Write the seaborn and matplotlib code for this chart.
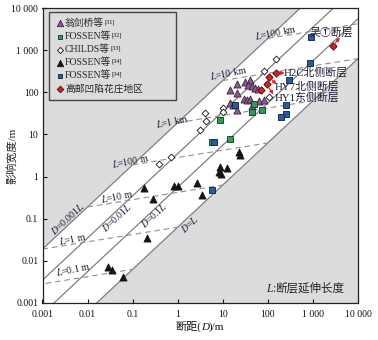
import numpy as np
import pandas as pd
import matplotlib
matplotlib.use('Agg')
import matplotlib.pyplot as plt
import seaborn as sns

sns.set_theme(style='white')
plt.rcParams['font.family'] = ['Liberation Serif', 'Noto Sans CJK SC']
plt.rcParams['mathtext.fontset'] = 'stix'
plt.rcParams['axes.unicode_minus'] = False

# ---------------- data (displacement D / m, influence width W / m) ----------------
weng_D = [20.6, 14.7, 20.6, 31.6, 40.8, 35.6, 44.6, 52.8, 60, 29, 34.5, 40.8, 62.5, 83.6, 14.2, 16.8, 20.6, 44.6]
weng_W = [161, 116, 96, 175, 192, 147, 139, 129, 120, 71, 67, 71, 62, 65, 56, 49, 39, 47]

fossen32_D = [8.8, 5.75, 14.7, 44.6, 74, 50]
fossen32_W = [22.5, 6.6, 7.6, 34, 37, 54]

childs_D = [0.39, 0.71, 4.08, 4.3, 3.05, 10.1, 10.1, 154, 81, 108]
childs_W = [1.97, 2.93, 32, 20.6, 12.6, 43, 34, 632, 315, 77]

fossen34t_D = [0.029, 0.0345, 0.0605, 0.183, 0.29, 0.207, 0.81, 1.04, 2.67, 3.45, 8.8, 8.1, 12.4, 9.1, 22.4, 24.5]
fossen34t_W = [0.0072, 0.006, 0.0041, 0.55, 0.286, 0.034, 0.61, 0.61, 0.72, 0.36, 1.7, 1.29, 1.56, 1.18, 3.85, 3.2]

fossen34s_D = [914, 880, 290, 258, 258, 196, 6.5, 19, 5.75]
fossen34s_W = [2050, 494, 200, 49, 30, 26, 6.6, 51, 0.49]

gaoyou_D = [155, 108, 96, 72, 2800]
gaoyou_W = [286, 231, 155, 111, 1240]

series_labels = ['翁剑桥等', 'FOSSEN等', 'CHILDS等', 'FOSSEN等', 'FOSSEN等', '高邮凹陷花庄地区']
series_refs = ['[31]', '[32]', '[33]', '[34]', '[34]', '']

# reference lines: D = c*L  (W proportional to D along each line)
ratio_labels = ['$D$=0.001$L$', '$D$=0.01$L$', '$D$=0.1$L$', '$D$=$L$']
ratios = [0.001, 0.01, 0.1, 1.0]
width_per_throw = [19.0, 3.5, 0.556, 0.063]
L_values = [0.1, 1, 10, 100, 1e3, 1e4, 1e5]
L_labels = ['0.1 m', '1 m', '10 m', '100 m', '1 km', '10 km', '100 km']

tick_values = [1e-3, 1e-2, 1e-1, 1, 10, 100, 1e3, 1e4]
xtick_labels = ['0.001', '0.01', '0.1', '1', '10', '100', '1 000', '10 000']
ytick_labels = ['0.001', '0.01', '0.1', '1', '10', '100', '1 000', '10 000']

fault_names = ['吴①断层', 'H2C北侧断层', 'HY7北侧断层', 'HY1东侧断层']

# ---------------- figure ----------------
W_PX, H_PX = 378, 340
fig = plt.figure(figsize=(W_PX / 100, H_PX / 100), dpi=100)
ax = fig.add_axes([42.5 / W_PX, 1 - 303 / H_PX, (358 - 42.5) / W_PX, (303 - 8) / H_PX])
ax.set_xscale('log')
ax.set_yscale('log')
ax.set_xlim(1e-3, 1e4)
ax.set_ylim(1e-3, 1e4)

gray = '#dcdcdc'
ax.set_facecolor(gray)
Dg = np.logspace(-5, 6, 300)
ax.fill_between(Dg, width_per_throw[-1] * Dg, width_per_throw[0] * Dg, color='white', zorder=0.5, lw=0)
for k in width_per_throw:
    ax.plot(Dg, k * Dg, color='#7f7f7f', lw=0.9, zorder=1)

wa = width_per_throw[0] * ratios[0]
wd = width_per_throw[-1] * ratios[-1]
slope = np.log10(wd / wa) / np.log10(ratios[-1] / ratios[0])
for L in L_values:
    Ds = np.logspace(np.log10(ratios[0] * L), np.log10(ratios[-1] * L), 60)
    Ws = wa * L * (Ds / (ratios[0] * L)) ** slope
    ax.plot(Ds, Ws, color='#8f8f8f', lw=0.8, ls=(0, (5, 3.5)), zorder=1.2)

# ---------------- scatter series ----------------
kw = dict(ax=ax, zorder=3, linewidth=0.6)
sns.scatterplot(x=weng_D, y=weng_W, marker='^', s=26, color='#8c5a8f', edgecolor='#3b2340', label=series_labels[0], **kw)
sns.scatterplot(x=fossen32_D, y=fossen32_W, marker='s', s=14, color='#2f9a5c', edgecolor='#17351f', label=series_labels[1], **kw)
sns.scatterplot(x=childs_D, y=childs_W, marker='D', s=12, color='white', edgecolor='#111111', label=series_labels[2], **kw)
sns.scatterplot(x=fossen34t_D, y=fossen34t_W, marker='^', s=26, color='#151515', edgecolor='#151515', label=series_labels[3], **kw)
sns.scatterplot(x=fossen34s_D, y=fossen34s_W, marker='s', s=14, color='#2a5aa0', edgecolor='#0f1f40', label=series_labels[4], **kw)
sns.scatterplot(x=gaoyou_D, y=gaoyou_W, marker='D', s=14, color='#d42222', edgecolor='#4a0a0a', label=series_labels[5], **kw)

leg = ax.legend(loc='upper left',
                bbox_to_anchor=((49 - 42.5) / 315.5, (303 - 12) / 295, 127 / 315.5, 0),
                mode='expand', borderaxespad=0,
                fontsize=7, frameon=True, fancybox=False, facecolor=gray, edgecolor='#444444', framealpha=1,
                handletextpad=0.1, handlelength=0.9, borderpad=0.65, labelspacing=0.36, markerscale=0.9)
leg.get_frame().set_linewidth(1.0)

# ---------------- labels on reference lines ----------------
tcol = '#1c1c3a'
Lpos = [(0.00476, 0.0064), (0.00453, 0.0329), (0.0453, 0.344), (0.088, 2.32), (0.755, 20.6), (13.2, 282), (147, 2640)]
for (x, y), lab in zip(Lpos, L_labels):
    ax.text(x, y, '$L$=' + lab, fontsize=7, rotation=11, ha='center', va='center', color=tcol, zorder=4)
Dpos = [(0.00369, 0.103), (0.0453, 0.109), (0.30, 0.122), (1.80, 0.0745)]
for (x, y), lab in zip(Dpos, ratio_labels):
    ax.text(x, y, lab, fontsize=7, rotation=43, ha='center', va='center', color=tcol, zorder=4)


def chain_texts(parts, x, y, transform, fontsize, color):
    objs = [fig.text(x, y, parts[0][0], transform=transform, fontsize=fontsize, fontstyle=parts[0][1],
                     ha='left', va='bottom', color=color)]
    for s, style in parts[1:]:
        objs.append(ax.annotate(s, xy=(1, 0), xycoords=objs[-1], fontsize=fontsize, fontstyle=style,
                                ha='left', va='bottom', color=color, annotation_clip=False))
    return objs


# note text  "L:断层延伸长度"
chain_texts([('L', 'italic'), (':', 'normal'), ('断层延伸长度', 'normal')], 266 / W_PX, 1 - 295 / H_PX,
            fig.transFigure, 8.3, '#222222')
# x-axis label "断距(D)/m"
chain_texts([('断距(', 'normal'), ('D', 'italic'), (')/m', 'normal')], 175 / W_PX, 1 - 331.5 / H_PX,
            fig.transFigure, 8, '#111111')

# ---------------- fault annotations ----------------
name_pos = [(860, 2640), (221, 298), (145, 139), (145, 76)]
for (x, y), name in zip(name_pos, fault_names):
    ax.text(x, y, name, fontsize=7.8, ha='left', va='center', color='#1c1c3a', zorder=4)
arrows = [((2930, 1370), (3980, 1955)), ((171, 286), (233, 286)),
          ((119.6, 203), (154, 155)), ((100, 139), (132, 90))]
for tail, head in arrows:
    ax.annotate('', xy=head, xytext=tail,
                arrowprops=dict(arrowstyle='-|>', color='#e02020', lw=0.8, mutation_scale=5,
                                shrinkA=0, shrinkB=0), zorder=4)

# ---------------- axes ----------------
ax.set_xticks(tick_values)
ax.set_xticklabels(xtick_labels)
ax.set_yticks(tick_values)
ax.set_yticklabels(ytick_labels)
ax.minorticks_off()
ax.tick_params(direction='in', length=3, width=0.8, labelsize=7, colors='#111111', pad=3,
               bottom=True, left=True, top=False, right=False)
ax.tick_params(axis='x', pad=5)
for sp in ax.spines.values():
    sp.set_color('#222222')
    sp.set_linewidth(0.9)
ax.set_ylabel('影响宽度/m', fontsize=8)
ax.yaxis.set_label_coords(-0.08, 0.5)

# superscript references after legend labels
fig.canvas.draw()
renderer = fig.canvas.get_renderer()
for txt, ref in zip(leg.get_texts(), series_refs):
    if ref:
        bb = txt.get_window_extent(renderer)
        fig.text((bb.x1 + 0.5) / W_PX, (bb.y1 - 1) / H_PX, ref, fontsize=4.5, ha='left', va='top',
                 color='#111111')

fig.savefig('out.png', dpi=100)
